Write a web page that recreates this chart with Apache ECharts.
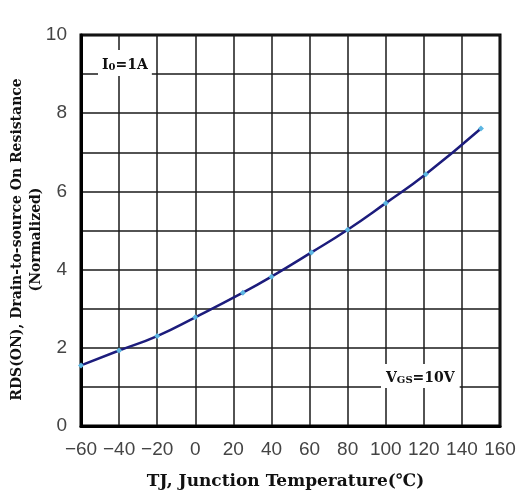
<!DOCTYPE html>
<html>
<head>
<meta charset="utf-8">
<script src="https://cdn.jsdelivr.net/npm/echarts@6/dist/echarts.min.js"></script>
<style>
  html, body { margin: 0; padding: 0; background: #fff; }
  #chart { width: 516px; height: 497px; }
</style>
</head>
<body>
<div id="chart"></div>
<script>
// junction temperature (°C) and normalized on-resistance
const temps = [-60, -40, -20, 0, 25, 40, 61, 80, 100, 121, 150];
const rds = [1.55, 1.93, 2.30, 2.78, 3.41, 3.82, 4.44, 5.02, 5.70, 6.44, 7.61];
const xTicks = [-60, -40, -20, 0, 20, 40, 60, 80, 100, 120, 140, 160];
const yTicks = [0, 2, 4, 6, 8, 10];

const chart = echarts.init(document.getElementById('chart'), null, { renderer: 'canvas' });

const boldFont = '"DejaVu Serif", "Liberation Serif", serif';
const labelFont = '"Liberation Sans", "DejaVu Sans", sans-serif';

const option = {
  animation: false,
  backgroundColor: '#fff',
  grid: {
    left: 81, right: 16, top: 35, bottom: 71,
    outerBoundsMode: 'none',
    containLabel: false,
    show: true,
    borderColor: '#000',
    borderWidth: 3
  },
  xAxis: {
    type: 'value',
    min: xTicks[0],
    max: xTicks[xTicks.length - 1],
    interval: 20,
    name: 'TJ, Junction Temperature(℃)',
    nameLocation: 'middle',
    nameGap: 47,
    nameTextStyle: { fontFamily: boldFont, fontWeight: 'bold', fontSize: 17, color: '#111', padding: [0, 10, 0, 0] },
    axisLine: { show: true, onZero: false, lineStyle: { color: '#000', width: 3 } },
    axisTick: { show: false },
    axisLabel: {
      fontFamily: labelFont, fontSize: 19, color: '#444', margin: 14,
      formatter: function (v) { return String(v).replace('-', '\u2212'); }
    },
    splitLine: { show: true, lineStyle: { color: '#1a1a1a', width: 1.5 } }
  },
  yAxis: {
    type: 'value',
    min: 0,
    max: yTicks[yTicks.length - 1],
    interval: 1,
    name: 'RDS(ON), Drain-to-source On Resistance\n(Normalized)',
    nameLocation: 'middle',
    nameGap: 35,
    nameMoveOverlap: false,
    nameRotate: 90,
    nameTextStyle: { fontFamily: boldFont, fontWeight: 'bold', fontSize: 14, lineHeight: 19, color: '#111', align: 'center', padding: [0, 18, 0, 0] },
    axisLine: { show: true, onZero: false, lineStyle: { color: '#000', width: 3 } },
    axisTick: { show: false },
    axisLabel: {
      fontFamily: labelFont, fontSize: 19, color: '#444', margin: 14,
      formatter: function (v) { return yTicks.indexOf(v) >= 0 ? String(v) : ''; }
    },
    splitLine: { show: true, lineStyle: { color: '#1a1a1a', width: 1.5 } }
  },
  series: [{
    type: 'line',
    data: temps.map((t, i) => [t, rds[i]]),
    smooth: true,
    symbol: 'diamond',
    symbolSize: 6,
    showSymbol: true,
    lineStyle: { color: '#1c1c7c', width: 2.5 },
    itemStyle: { color: '#5cb6e2' },
    z: 5
  }],
  graphic: [
    {
      type: 'text',
      left: 98,
      top: 50,
      z: 10,
      style: {
        text: '{m|I}{s|0}{m|=1A}',
        backgroundColor: '#fff',
        padding: [4, 4, 4, 4],
        rich: {
          m: { fontFamily: boldFont, fontWeight: 'bold', fontSize: 14, fill: '#111', lineHeight: 18, verticalAlign: 'bottom' },
          s: { fontFamily: boldFont, fontWeight: 'bold', fontSize: 10, fill: '#111', lineHeight: 14, verticalAlign: 'bottom' }
        }
      }
    },
    {
      type: 'text',
      left: 381,
      top: 364,
      z: 10,
      style: {
        text: '{m|V}{s|GS}{m|=10V}',
        backgroundColor: '#fff',
        padding: [3, 5, 3, 5],
        rich: {
          m: { fontFamily: boldFont, fontWeight: 'bold', fontSize: 14, fill: '#111', lineHeight: 18, verticalAlign: 'bottom' },
          s: { fontFamily: boldFont, fontWeight: 'bold', fontSize: 10, fill: '#111', lineHeight: 14, verticalAlign: 'bottom' }
        }
      }
    }
  ]
};

chart.setOption(option);
</script>
</body>
</html>
